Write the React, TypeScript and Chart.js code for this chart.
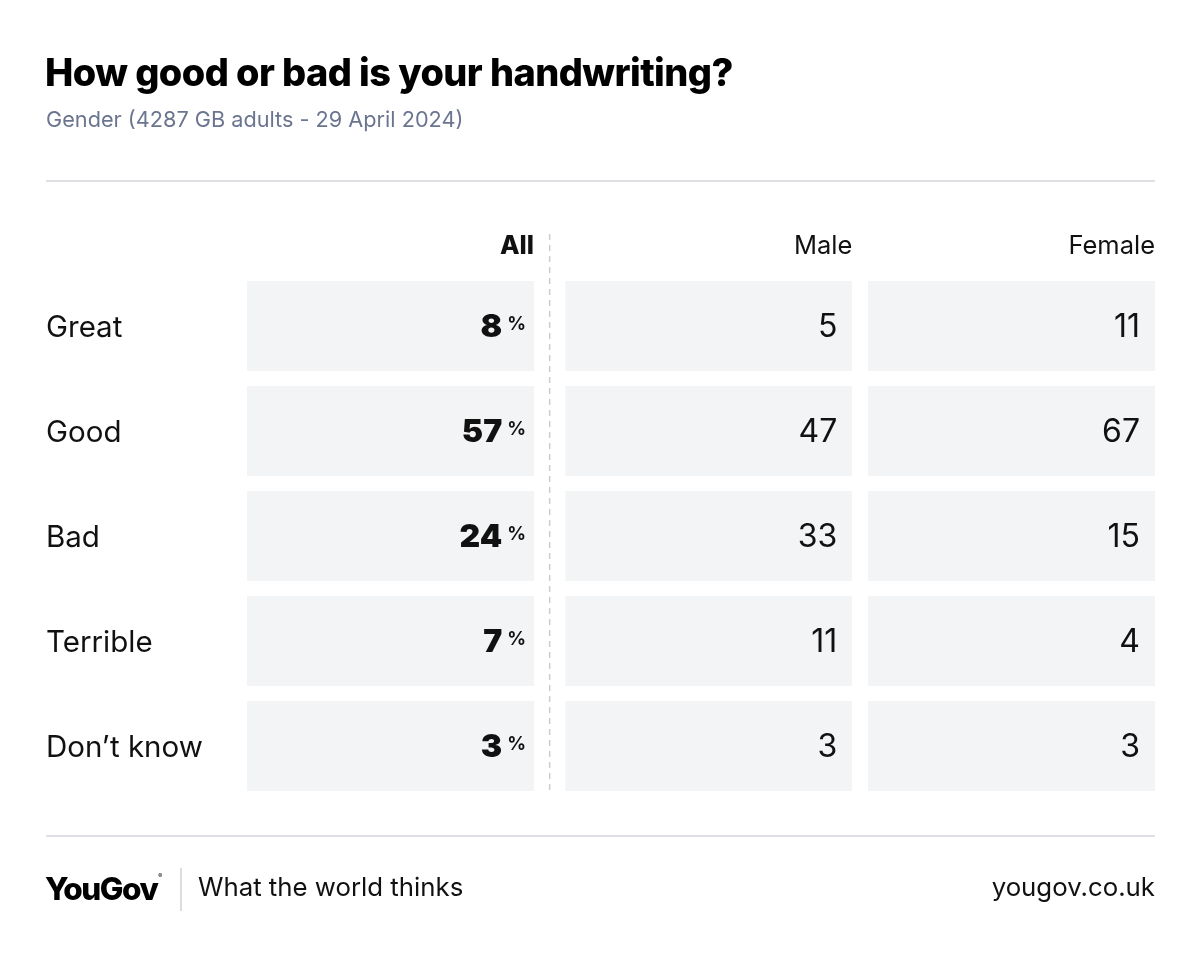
import React, { useEffect, useRef } from "react";
import { Chart, registerables } from "chart.js";

Chart.register(...registerables);

// ---- content ----
const TITLE = "How good or bad is your handwriting?";
const SUBTITLE = "Gender (4287 GB adults - 29 April 2024)";
const ROWS = ["Great", "Good", "Bad", "Terrible", "Don’t know"];
const COLUMNS = ["All", "Male", "Female"];
const ALL = [8, 57, 24, 7, 3];
const MALE = [5, 47, 33, 11, 3];
const FEMALE = [11, 67, 15, 4, 3];
// each table cell spans one column unit
const CELL_SPAN = [1, 1, 1, 1, 1];
const BRAND = "YouGov";
const TAGLINE = "What the world thinks";
const URL_TEXT = "yougov.co.uk";

const VALUES = [ALL, MALE, FEMALE];

const FONT = "Inter, 'Noto Sans', sans-serif";
const W = 1200;
const H = 956;
const CELL_BG = "#f3f4f6";
const GAP = 15.67;

const tablePlugin = {
  id: "tableText",
  beforeDraw(chart: any) {
    const ctx = chart.ctx;
    ctx.save();
    ctx.fillStyle = "#ffffff";
    ctx.fillRect(0, 0, chart.width, chart.height);
    ctx.restore();
  },
  afterDraw(chart: any) {
    const ctx = chart.ctx as CanvasRenderingContext2D;
    ctx.save();
    // title
    ctx.fillStyle = "#000000";
    ctx.textAlign = "left";
    ctx.textBaseline = "alphabetic";
    ctx.font = `800 37.9px ${FONT}`;
    (ctx as any).letterSpacing = "-0.55px";
    ctx.fillText(TITLE, 45, 86);
    (ctx as any).letterSpacing = "0px";
    // subtitle
    ctx.fillStyle = "#6b7590";
    ctx.font = `400 21.7px ${FONT}`;
    ctx.fillText(SUBTITLE, 46, 127);
    // separators
    ctx.fillStyle = "#dfe0e3";
    ctx.fillRect(46, 180, 1109, 2);
    ctx.fillRect(46, 835, 1109, 2);

    // row labels, positioned on the category axis
    const yScale = chart.scales.y;
    ctx.fillStyle = "#111111";
    ctx.font = `400 29.5px ${FONT}`;
    ROWS.forEach((label, i) => {
      const y = yScale.getPixelForValue(i);
      ctx.fillText(label, 46, y + 11);
    });

    // column headers + values
    const metas = [0, 1, 2].map((i) => chart.getDatasetMeta(i));
    const rights = [GAP, 0, 0];
    metas.forEach((meta: any, ci: number) => {
      const first = meta.data[0];
      const cellRight = first.x - rights[ci];
      ctx.textAlign = "right";
      ctx.fillStyle = "#111111";
      ctx.font = ci === 0 ? `800 25.5px ${FONT}` : `400 25.5px ${FONT}`;
      ctx.fillText(COLUMNS[ci], cellRight, 254);
      meta.data.forEach((el: any, ri: number) => {
        const r = el.x - rights[ci];
        const base = el.y + 11;
        const v = String(VALUES[ci][ri]);
        if (ci === 0) {
          ctx.font = `700 18.5px ${FONT}`;
          const pr = r - 8;
          ctx.fillText("%", pr, el.y + 4);
          const pw = ctx.measureText("%").width;
          ctx.font = `900 32px ${FONT}`;
          ctx.fillText(v, pr - pw - 5, base);
        } else {
          ctx.font = `400 32px ${FONT}`;
          ctx.fillText(v, r - 15, base);
        }
      });
    });

    // dashed divider
    const divX = metas[0].data[0].x;
    ctx.strokeStyle = "#c8ccd5";
    ctx.lineWidth = 1.5;
    ctx.setLineDash([6, 5]);
    ctx.beginPath();
    ctx.moveTo(divX, 234);
    ctx.lineTo(divX, 791);
    ctx.stroke();
    ctx.setLineDash([]);

    // footer
    ctx.textAlign = "left";
    ctx.fillStyle = "#000000";
    ctx.font = `800 31.5px ${FONT}`;
    (ctx as any).letterSpacing = "-1.5px";
    ctx.fillText(BRAND, 45, 900);
    const bw = ctx.measureText(BRAND).width;
    (ctx as any).letterSpacing = "0px";
    ctx.font = `400 6px ${FONT}`;
    ctx.fillText("®", 45 + bw + 1, 878);
    ctx.fillStyle = "#dcdde0";
    ctx.fillRect(180, 868, 2, 43);
    ctx.fillStyle = "#111111";
    ctx.font = `400 25.8px ${FONT}`;
    ctx.fillText(TAGLINE, 198, 896);
    ctx.textAlign = "right";
    ctx.fillText(URL_TEXT, 1155, 896);
    ctx.restore();
  },
};

export default function App() {
  const ref = useRef<HTMLCanvasElement | null>(null);
  useEffect(() => {
    document.body.style.margin = "0";
    if (!ref.current) return;
    const common = {
      backgroundColor: CELL_BG,
      borderColor: "#ffffff",
      borderSkipped: false as const,
      inflateAmount: 0,
      barPercentage: 1,
      categoryPercentage: 90 / 105,
    };
    const chart = new Chart(ref.current, {
      type: "bar",
      data: {
        labels: ROWS,
        datasets: [
          { ...common, label: COLUMNS[0], data: CELL_SPAN, borderWidth: { left: 0, right: GAP, top: 0, bottom: 0 } },
          { ...common, label: COLUMNS[1], data: CELL_SPAN, borderWidth: { left: GAP, right: 0, top: 0, bottom: 0 } },
          { ...common, label: COLUMNS[2], data: CELL_SPAN, borderWidth: { left: GAP, right: 0, top: 0, bottom: 0 } },
        ],
      },
      options: {
        animation: false,
        responsive: false,
        maintainAspectRatio: false,
        indexAxis: "y",
        events: [],
        layout: { padding: { top: 273.5, bottom: 157.5, left: 46, right: 45 } },
        plugins: {
          legend: { display: false },
          tooltip: { enabled: false },
          title: { display: false },
        },
        scales: {
          x: { type: "linear", stacked: true, min: 0, max: 3, display: false },
          y: {
            type: "category",
            stacked: true,
            grid: { display: false },
            border: { display: false },
            ticks: { display: false },
            afterFit: (s: any) => {
              s.width = 201;
            },
          },
        },
      } as any,
      plugins: [tablePlugin],
    });
    return () => chart.destroy();
  }, []);
  return <canvas ref={ref} width={W} height={H} style={{ display: "block", width: W, height: H }} />;
}
